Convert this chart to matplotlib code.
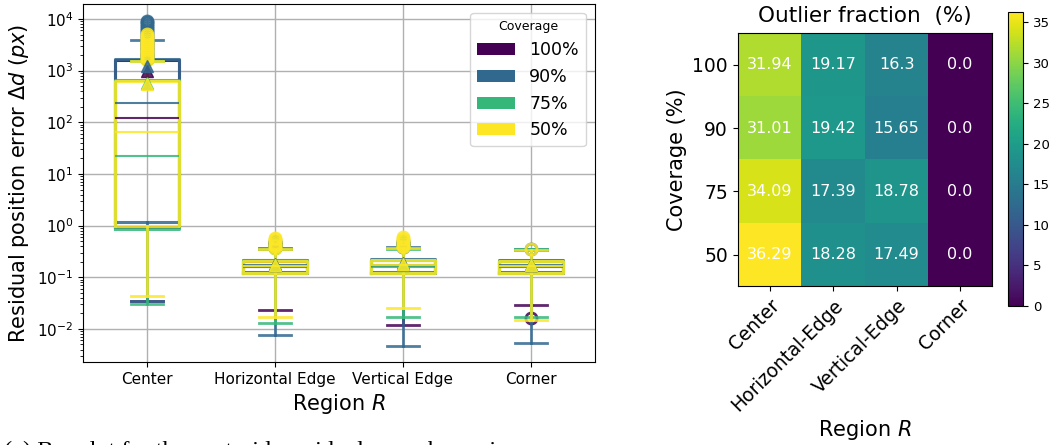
import numpy as np
import matplotlib
matplotlib.use("Agg")
import matplotlib.pyplot as plt
from matplotlib.patches import Patch

# ---- data ----
regions = ['Center', 'Horizontal Edge', 'Vertical Edge', 'Corner']
regions_hm = ['Center', 'Horizontal-Edge', 'Vertical-Edge', 'Corner']
coverages = ['100%', '90%', '75%', '50%']
coverage_ticks = ['100', '90', '75', '50']

# box statistics per coverage, one value per region
q1 = {'100%': [0.93, 0.12, 0.12, 0.12],
      '90%': [1.19, 0.125, 0.125, 0.125],
      '75%': [0.87, 0.12, 0.12, 0.12],
      '50%': [1.0, 0.12, 0.12, 0.12]}
med = {'100%': [121, 0.16, 0.165, 0.16],
       '90%': [233, 0.17, 0.175, 0.17],
       '75%': [22.6, 0.155, 0.16, 0.155],
       '50%': [65, 0.165, 0.17, 0.165]}
q3 = {'100%': [1600, 0.21, 0.22, 0.21],
      '90%': [1650, 0.22, 0.225, 0.215],
      '75%': [665, 0.215, 0.22, 0.21],
      '50%': [635, 0.21, 0.215, 0.205]}
whislo = {'100%': [0.035, 0.0234, 0.0118, 0.029],
          '90%': [0.034, 0.0078, 0.0046, 0.0053],
          '75%': [0.031, 0.0129, 0.0168, 0.0167],
          '50%': [0.044, 0.0171, 0.026, 0.0151]}
whishi = {'100%': [1580, 0.36, 0.37, 0.34],
          '90%': [3970, 0.37, 0.38, 0.35],
          '75%': [1550, 0.35, 0.36, 0.35],
          '50%': [1530, 0.35, 0.37, 0.33]}
means = {'100%': [1000, 0.175, 0.18, 0.17],
         '90%': [1250, 0.18, 0.185, 0.175],
         '75%': [570, 0.17, 0.175, 0.17],
         '50%': [560, 0.175, 0.18, 0.17]}
fliers = {
    '100%': [[1700, 1900, 2200, 2600, 3000, 3500],
             [0.38, 0.42, 0.46],
             [0.39, 0.43, 0.47],
             [0.0166]],
    '90%': [[4300, 4700, 5100, 5600, 6100, 6700, 7300, 8000, 8700, 9300],
            [0.38, 0.42, 0.46, 0.5],
            [0.4, 0.45, 0.5],
            [0.36]],
    '75%': [[1700, 2000, 2400, 2800, 3300, 3800],
            [0.37, 0.41, 0.45],
            [0.38, 0.42, 0.47],
            []],
    '50%': [[1600, 1750, 1900, 2100, 2300, 2500, 2750, 3000, 3300, 3600,
             3950, 4300, 4700, 5100],
            [0.37, 0.4, 0.43, 0.46, 0.5, 0.54, 0.58],
            [0.38, 0.41, 0.44, 0.48, 0.52, 0.56, 0.6],
            [0.36]],
}

outlier_frac = np.array([[31.94, 19.17, 16.3, 0.0],
                         [31.01, 19.42, 15.65, 0.0],
                         [34.09, 17.39, 18.78, 0.0],
                         [36.29, 18.28, 17.49, 0.0]])

colors = plt.cm.viridis(np.linspace(0, 1, 4))

fig = plt.figure(figsize=(10.57, 4.45), dpi=100)

# ---- left: boxplot ----
ax1 = fig.add_axes([0.0785, 0.1865, 0.484, 0.8045])
ax1.grid(True, color='#b0b0b0', linewidth=1)
ax1.set_axisbelow(True)
for cov, c in zip(coverages, colors):
    stats = []
    for k in range(4):
        stats.append({'q1': q1[cov][k], 'med': med[cov][k], 'q3': q3[cov][k],
                      'whislo': whislo[cov][k], 'whishi': whishi[cov][k],
                      'mean': means[cov][k], 'fliers': np.array(fliers[cov][k])})
    ax1.bxp(stats, positions=[1, 2, 3, 4], widths=0.5, showmeans=True,
            boxprops=dict(color=c, linewidth=2.2, alpha=0.85),
            whiskerprops=dict(color=c, linewidth=2, alpha=0.85),
            capprops=dict(color=c, linewidth=2, alpha=0.85),
            medianprops=dict(color=c, linewidth=1.5, alpha=0.85),
            meanprops=dict(marker='^', markerfacecolor=c, markeredgecolor=c,
                           markersize=9, alpha=0.85),
            flierprops=dict(marker='o', markerfacecolor='none', markeredgecolor=c,
                            markeredgewidth=2, markersize=8, alpha=0.85))
ax1.set_yscale('log')
ax1.set_ylim(10 ** -2.64, 10 ** 4.29)
ax1.set_xlim(0.5, 4.5)
ax1.set_xticks([1, 2, 3, 4])
ax1.set_xticklabels(regions, fontsize=11)
ax1.tick_params(axis='y', labelsize=11)
ax1.set_xlabel('Region $R$', fontsize=15)
ax1.set_ylabel(r'Residual position error $\Delta d$ $(px)$', fontsize=15)
handles = [Patch(facecolor=c, label=l) for c, l in zip(colors, coverages)]
ax1.legend(handles=handles, title='Coverage', loc='upper right', fontsize=12.5,
           title_fontsize=9, handlelength=2.2, labelspacing=0.5)

# ---- right: heatmap ----
ax2 = fig.add_axes([0.698, 0.357, 0.2403, 0.5685])
im = ax2.imshow(outlier_frac, cmap='viridis', vmin=0, vmax=outlier_frac.max(),
                aspect='auto')
for i in range(outlier_frac.shape[0]):
    for j in range(outlier_frac.shape[1]):
        ax2.text(j, i, str(outlier_frac[i, j]), ha='center', va='center',
                 color='w', fontsize=11.5)
ax2.set_xticks(range(4))
ax2.set_xticklabels(regions_hm, rotation=45, ha='right',
                    rotation_mode='anchor', fontsize=13.5)
ax2.set_yticks(range(4))
ax2.set_yticklabels(coverage_ticks, fontsize=13.5)
ax2.set_ylabel('Coverage (%)', fontsize=15)
ax2.set_xlabel('Region $R$', fontsize=15, labelpad=2)
ax2.set_title('Outlier fraction  (%)', fontsize=15.5, pad=8)

cax = fig.add_axes([0.9537, 0.3124, 0.0142, 0.661])
cb = fig.colorbar(im, cax=cax)
cb.set_ticks([0, 5, 10, 15, 20, 25, 30, 35])
cb.ax.tick_params(labelsize=9.5)

# caption of the subfigure, cut off at the bottom edge as in the source
fig.text(0.004, 1 - 441 / 445, '(a) Boxplot for the centroids residual error, by region',
         family='Liberation Serif', fontsize=17.5, va='top')

plt.savefig('out.png', dpi=100)
